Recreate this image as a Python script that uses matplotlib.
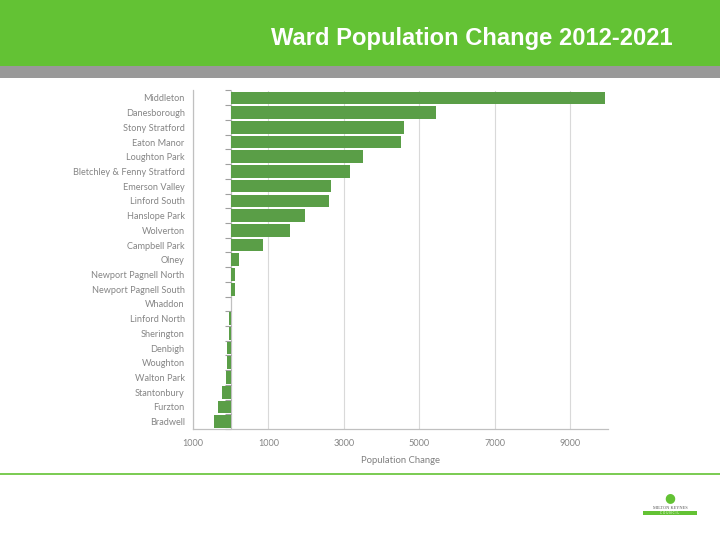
import matplotlib
matplotlib.use("Agg")
import matplotlib.pyplot as plt
from matplotlib.patches import Rectangle
from matplotlib.lines import Line2D

wards = ["Middleton", "Danesborough", "Stony Stratford", "Eaton Manor", "Loughton Park",
         "Bletchley & Fenny Stratford", "Emerson Valley", "Linford South", "Hanslope Park",
         "Wolverton", "Campbell Park", "Olney", "Newport Pagnell North", "Newport Pagnell South",
         "Whaddon", "Linford North", "Sherington", "Denbigh", "Woughton", "Walton Park",
         "Stantonbury", "Furzton", "Bradwell"]
change = [9930, 5450, 4600, 4520, 3510, 3160, 2650, 2610, 1960, 1570, 860, 220, 115, 120,
          0, -45, -45, -100, -100, -125, -230, -340, -445]
tick_values = [-1000, 1000, 3000, 5000, 7000, 9000]
tick_labels = ["1000", "1000", "3000", "5000", "7000", "9000"]

fig = plt.figure(figsize=(7.2, 5.4), dpi=100)

# header bands
fig.patches.append(Rectangle((0, 1 - 66 / 540), 1, 66 / 540, transform=fig.transFigure,
                             facecolor="#63c234", edgecolor="none", zorder=0))
fig.patches.append(Rectangle((0, 1 - 78 / 540), 1, 12 / 540, transform=fig.transFigure,
                             facecolor="#999999", edgecolor="none", zorder=0))
fig.text(673 / 720, 1 - 38.5 / 540, "Ward Population Change 2012-2021", color="white",
         fontsize=17.1, family="Liberation Sans", weight="bold", ha="right", va="center")

# bottom line
fig.add_artist(Line2D([0, 1], [1 - 474 / 540, 1 - 474 / 540], transform=fig.transFigure,
                      color="#63c234", lw=1.2))

ax = fig.add_axes([193 / 720, 1 - 429 / 540, (607.7 - 193) / 720, (429 - 90.5) / 540])
y = list(range(len(wards)))
ax.barh(y, change, height=0.86, color="#5a9e47", zorder=3)
ax.set_ylim(len(wards) - 0.5, -0.5)
ax.set_xlim(-1000, 10000)
ax.set_yticks(y)
ax.set_yticklabels(wards, family="Lato", fontsize=6.6, color="#858585")
ax.tick_params(axis="y", length=0, pad=6)
ax.set_xticks(tick_values)
ax.set_xticklabels(tick_labels, family="Lato", fontsize=6.6, color="#858585")
ax.tick_params(axis="x", length=0, pad=7)
ax.set_xlabel("Population Change", family="Lato", fontsize=6.8, color="#808080", labelpad=6)
ax.grid(axis="x", color="#d9d9d9", lw=0.8, zorder=0)
for s in ["top", "right"]:
    ax.spines[s].set_visible(False)
for s in ["left", "bottom"]:
    ax.spines[s].set_color("#c0c0c0")
    ax.spines[s].set_linewidth(0.9)

# zero axis with category tick marks
ax.axvline(0, color="#c0c0c0", lw=0.9, zorder=2)
bounds = [i - 0.5 for i in range(len(wards) + 1)]
ax.plot([0] * len(bounds), bounds, linestyle="none", marker=0, markersize=4,
        color="#a0a0a0", markeredgewidth=0.8, zorder=2, clip_on=False)

# logo approximation
fig.text(670 / 720, 1 - 498 / 540, "\u25cf", color="#63c234", fontsize=9, ha="center", va="center")
fig.text(670 / 720, 1 - 508 / 540, "MILTON KEYNES", color="#555555", fontsize=3.2,
         family="Liberation Serif", ha="center", va="center")
fig.patches.append(Rectangle((643 / 720, 1 - 515 / 540), 54 / 720, 4 / 540,
                             transform=fig.transFigure, facecolor="#63c234", edgecolor="none"))
fig.text(670 / 720, 1 - 513 / 540, "C O U N C I L", color="white", fontsize=2.2,
         ha="center", va="center")

fig.savefig("out.png", dpi=100)
